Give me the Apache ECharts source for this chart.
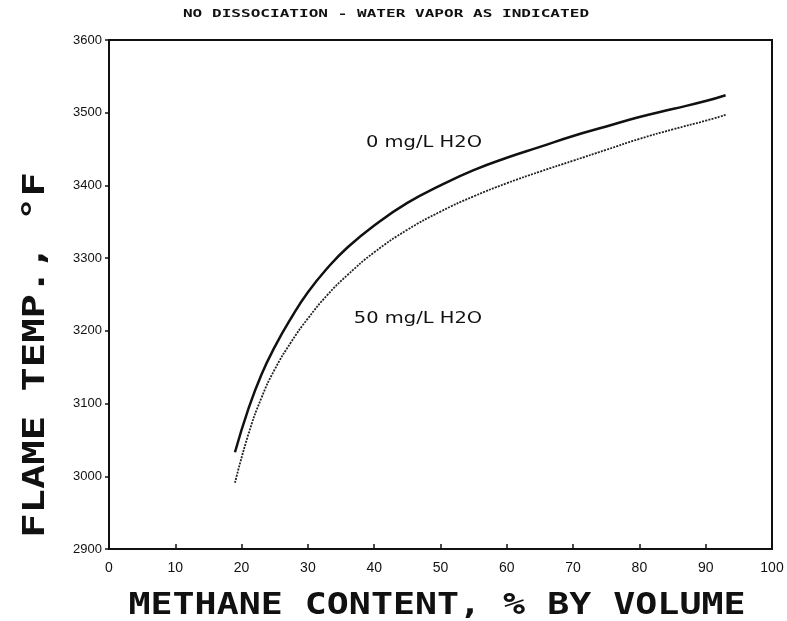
<!DOCTYPE html>
<html>
<head>
<meta charset="utf-8">
<script src="https://cdn.jsdelivr.net/npm/echarts@6/dist/echarts.min.js"></script>
<style>html,body{margin:0;padding:0;background:#fff;}#c{width:787px;height:621px;}</style>
</head>
<body>
<div id="c"></div>
<script>
var methaneX = [19, 21, 23, 25, 27.5, 30, 33, 36, 40, 45, 50, 55, 60, 65, 70, 75, 80, 85, 90, 93];
var temp0 = [3033, 3092, 3140, 3178, 3218, 3253, 3287, 3315, 3345, 3376, 3400, 3421, 3438, 3453, 3468, 3481, 3494, 3505, 3516, 3524];
var temp50 = [2991, 3057, 3108, 3147, 3185, 3217, 3250, 3277, 3308, 3339, 3364, 3385, 3403, 3419, 3434, 3449, 3464, 3477, 3489, 3497];
var xTicks = [0, 10, 20, 30, 40, 50, 60, 70, 80, 90, 100];
var yTicks = [2900, 3000, 3100, 3200, 3300, 3400, 3500, 3600];
var titleText = 'NO DISSOCIATION - WATER VAPOR AS INDICATED';
var xName = 'METHANE CONTENT, % BY VOLUME';
var yName = 'FLAME TEMP., \u00B0F';
var label0 = '0 mg/L H2O';
var label50 = '50 mg/L H2O';

function pairs(xs, ys){ return xs.map(function(x,i){return [x, ys[i]];}); }

var chart = echarts.init(document.getElementById('c'));
chart.setOption({
  animation: false,
  backgroundColor: '#fff',
  grid: {left: 109, right: 15, top: 40, bottom: 72, show: true, borderColor: '#111', borderWidth: 2},
  xAxis: {
    type: 'value', min: xTicks[0], max: xTicks[xTicks.length-1], interval: 10,
    axisLine: {show: true, lineStyle: {color: '#111', width: 2}},
    axisTick: {show: true, inside: true, length: 5, lineStyle: {color: '#111', width: 1.5}},
    axisLabel: {color: '#111', fontFamily: 'Liberation Sans', fontSize: 14, margin: 12,
      formatter: function(v){ return String(v); }},
    splitLine: {show: false}
  },
  yAxis: {
    type: 'value', min: yTicks[0], max: yTicks[yTicks.length-1], interval: 100,
    axisLine: {show: true, lineStyle: {color: '#111', width: 2}},
    axisTick: {show: true, inside: false, length: 4, lineStyle: {color: '#111', width: 1.5}},
    axisLabel: {color: '#111', fontFamily: 'Liberation Sans', fontSize: 13, margin: 7,
      formatter: function(v){ return String(v); }},
    splitLine: {show: false}
  },
  series: [
    {type: 'line', data: pairs(methaneX, temp0), smooth: true, showSymbol: false,
     lineStyle: {color: '#111', width: 2.5}},
    {type: 'line', data: pairs(methaneX, temp50), smooth: true, showSymbol: false,
     lineStyle: {color: '#222', width: 1.8, type: [2, 1.2]}}
  ],
  graphic: [
    {type: 'text', x: 386, y: 14, style: {text: titleText, fill: '#111', font: 'bold 11px "DejaVu Sans Mono"', align: 'center', verticalAlign: 'middle'}, scaleX: 1.46},
    {type: 'text', x: 437, y: 606, style: {text: xName, fill: '#111', font: 'bold 30px "DejaVu Sans Mono"', align: 'center', verticalAlign: 'middle'}, scaleX: 1.22},
    {type: 'text', x: 36, y: 355, rotation: Math.PI/2, style: {text: yName, fill: '#111', font: 'bold 30px "DejaVu Sans Mono"', align: 'center', verticalAlign: 'middle'}, scaleX: 1.35},
    {type: 'text', x: 424, y: 143, style: {text: label0, fill: '#111', font: '15px "DejaVu Sans"', align: 'center', verticalAlign: 'middle'}, scaleX: 1.3},
    {type: 'text', x: 418, y: 319, style: {text: label50, fill: '#111', font: '15px "DejaVu Sans"', align: 'center', verticalAlign: 'middle'}, scaleX: 1.3}
  ]
});
</script>
</body>
</html>
